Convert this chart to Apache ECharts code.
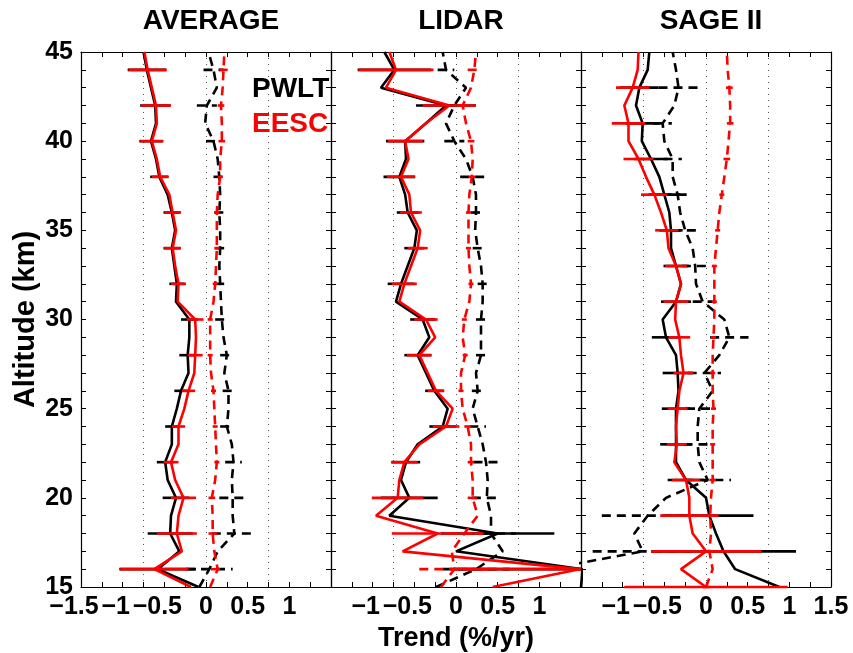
<!DOCTYPE html>
<html><head><meta charset="utf-8">
<script src="https://cdn.jsdelivr.net/npm/echarts@6/dist/echarts.min.js"></script>
<style>html,body{margin:0;padding:0;background:#fff}#c{width:853px;height:653px}</style>
</head><body><div id="c"></div>
<script>
// Altitudes (km) of the profiles
const alt = [15,16,17,18,19,20,21,22,23,24,25,26,27,28,29,30,31,32,33,34,35,36,37,38,39,40,41,42,43,44,45];
const evenAlt = [16,18,20,22,24,26,28,30,32,34,36,38,40,42,44];
const oddAlt = [15,17,19,21,23,25,27,29,31,33,35,37,39,41,43];
const panelTitles = ['AVERAGE','LIDAR','SAGE II'];
const legendNames = ['PWLT','EESC'];

// AVERAGE
const avgPwltPre  = [-0.09,-0.58,-0.32,-0.43,-0.42,-0.36,-0.46,-0.49,-0.41,-0.41,-0.35,-0.30,-0.21,-0.22,-0.20,-0.20,-0.36,-0.35,-0.38,-0.41,-0.37,-0.41,-0.46,-0.56,-0.60,-0.66,-0.60,-0.61,-0.66,-0.71,-0.75];
const avgEescPre  = [-0.18,-0.62,-0.29,-0.35,-0.33,-0.27,-0.37,-0.42,-0.33,-0.33,-0.26,-0.21,-0.14,-0.13,-0.12,-0.13,-0.34,-0.33,-0.37,-0.40,-0.36,-0.40,-0.44,-0.55,-0.59,-0.65,-0.59,-0.60,-0.65,-0.70,-0.74];
const avgPwltPost = [-0.08,0.04,0.14,0.34,0.32,0.32,0.31,0.33,0.31,0.25,0.27,0.27,0.22,0.25,0.21,0.19,0.18,0.17,0.16,0.17,0.17,0.16,0.17,0.16,0.14,0.09,-0.01,0.01,0.13,0.09,0.03];
const avgEescPost = [0.05,0.14,0.10,0.08,0.08,0.07,0.11,0.13,0.12,0.11,0.10,0.09,0.06,0.05,0.05,0.05,0.09,0.11,0.12,0.13,0.13,0.13,0.14,0.17,0.17,0.19,0.19,0.18,0.20,0.21,0.22];
const avgPwltPreErr  = [0.46,0.27,0.16,0.10,0.08,0.08,0.10,0.10,0.09,0.10,0.10,0.11,0.14,0.18,0.23];
const avgEescPreErr  = [0.41,0.24,0.15,0.09,0.08,0.08,0.09,0.10,0.09,0.10,0.10,0.10,0.14,0.18,0.23];
const avgPwltPostErr = [0.28,0.27,0.16,0.10,0.08,0.07,0.08,0.08,0.06,0.06,0.06,0.07,0.09,0.12,0.12];
const avgEescPostErr = [0.08,0.05,0.04,0.03,0.03,0.03,0.03,0.03,0.03,0.03,0.03,0.03,0.04,0.04,0.05];

// LIDAR
const lidPwltPre  = [1.50,1.52,0.00,0.50,-0.80,-0.56,-0.66,-0.60,-0.46,-0.16,-0.10,-0.26,-0.36,-0.46,-0.32,-0.40,-0.72,-0.66,-0.58,-0.50,-0.47,-0.58,-0.61,-0.68,-0.60,-0.61,-0.36,-0.12,-0.90,-0.74,-0.86];
const lidEescPre  = [0.44,1.48,-0.64,-0.22,-0.96,-0.70,-0.68,-0.62,-0.44,-0.12,-0.04,-0.24,-0.34,-0.44,-0.25,-0.36,-0.68,-0.62,-0.54,-0.46,-0.43,-0.54,-0.56,-0.66,-0.57,-0.61,-0.36,-0.08,-0.84,-0.72,-0.80];
const lidPwltPost = [-0.24,0.24,0.56,0.42,0.42,0.37,0.38,0.36,0.32,0.26,0.20,0.26,0.24,0.30,0.30,0.30,0.32,0.32,0.30,0.26,0.23,0.24,0.24,0.20,0.12,-0.02,-0.12,-0.02,0.12,-0.12,-0.16];
const lidEescPost = [-0.18,-0.02,-0.05,0.10,0.26,0.20,0.20,0.18,0.18,0.14,0.08,0.06,0.06,0.11,0.08,0.10,0.16,0.18,0.16,0.15,0.15,0.15,0.16,0.19,0.20,0.18,0.12,0.08,0.18,0.22,0.24];
const lidPwltPreErr  = [1.55,0.68,0.34,0.17,0.16,0.11,0.16,0.15,0.16,0.12,0.13,0.19,0.23,0.36,0.44];
const lidEescPreErr  = [1.55,0.55,0.31,0.16,0.16,0.10,0.15,0.14,0.15,0.12,0.13,0.17,0.21,0.32,0.45];
const lidPwltPostErr = [0.40,0.30,0.18,0.15,0.10,0.07,0.06,0.06,0.06,0.06,0.06,0.15,0.12,0.10,0.10];
const lidEescPostErr = [0.42,0.20,0.06,0.04,0.04,0.03,0.03,0.03,0.03,0.03,0.03,0.04,0.04,0.05,0.08];

// SAGE II
const sagPwltPre  = [0.88,0.35,0.21,0.12,0.04,0.00,-0.24,-0.36,-0.36,-0.36,-0.36,-0.33,-0.34,-0.36,-0.48,-0.52,-0.36,-0.30,-0.36,-0.42,-0.42,-0.44,-0.50,-0.56,-0.66,-0.77,-0.76,-0.84,-0.80,-0.70,-0.68];
const sagEescPre  = [0.00,-0.30,0.00,-0.16,-0.20,-0.20,-0.24,-0.38,-0.35,-0.36,-0.34,-0.32,-0.27,-0.30,-0.32,-0.37,-0.36,-0.30,-0.36,-0.45,-0.47,-0.54,-0.62,-0.72,-0.81,-0.93,-0.93,-0.98,-0.88,-0.82,-0.81];
const sagPwltPost = [-1.80,-1.90,-0.76,-0.86,-0.70,-0.48,0.02,-0.08,-0.10,-0.10,-0.08,0.08,-0.02,0.16,0.28,0.22,-0.04,-0.12,-0.13,-0.16,-0.25,-0.31,-0.34,-0.40,-0.40,-0.50,-0.52,-0.38,-0.33,-0.36,-0.40];
const sagEescPost = [0.00,0.08,0.04,0.06,0.05,0.06,0.08,0.08,0.08,0.08,0.09,0.08,0.08,0.08,0.09,0.10,0.10,0.10,0.10,0.12,0.14,0.16,0.19,0.22,0.25,0.27,0.29,0.29,0.28,0.26,0.25];
const sagPwltPreErr  = [0.00,0.87,0.53,0.22,0.19,0.17,0.18,0.17,0.18,0.15,0.14,0.19,0.20,0.20,0.23];
const sagEescPreErr  = [0.98,0.66,0.35,0.17,0.12,0.12,0.12,0.13,0.15,0.13,0.14,0.16,0.18,0.20,0.20];
const sagPwltPostErr = [0.00,0.60,0.55,0.28,0.17,0.16,0.20,0.23,0.12,0.16,0.16,0.18,0.11,0.11,0.24];
const sagEescPostErr = [0.04,0.04,0.04,0.04,0.03,0.03,0.03,0.03,0.03,0.03,0.03,0.03,0.04,0.04,0.04];

const panels = [
  {pp:avgPwltPre, ep:avgEescPre, pq:avgPwltPost, eq:avgEescPost, ppe:avgPwltPreErr, epe:avgEescPreErr, pqe:avgPwltPostErr, eqe:avgEescPostErr, ebAlt:evenAlt},
  {pp:lidPwltPre, ep:lidEescPre, pq:lidPwltPost, eq:lidEescPost, ppe:lidPwltPreErr, epe:lidEescPreErr, pqe:lidPwltPostErr, eqe:lidEescPostErr, ebAlt:evenAlt},
  {pp:sagPwltPre, ep:sagEescPre, pq:sagPwltPost, eq:sagEescPost, ppe:sagPwltPreErr, epe:sagEescPreErr, pqe:sagPwltPostErr, eqe:sagEescPostErr, ebAlt:oddAlt}
];

const FONT = 'Liberation Sans, Arial, sans-serif';
const BLACK = '#000000', RED = '#ff0000';
const DASH = [9, 6];
const gridLeft = 81, gridW = 250, gridTop = 52, gridH = 535;

function lineData(vals){ return vals.map((v,i)=>[v, alt[i]]); }
function ebData(line, errs, ebAlt){ return ebAlt.map((a,i)=>[line[alt.indexOf(a)], errs[i], a]); }
function ebRender(color, dashed){
  return function(params, api){
    const v = api.value(0), e = api.value(1), a = api.value(2);
    const p1 = api.coord([v-e, a]), p2 = api.coord([v+e, a]);
    const cs = params.coordSys;
    const cl = x => Math.max(cs.x, Math.min(cs.x+cs.width, x));
    return {type:'line', shape:{x1:cl(p1[0]), y1:p1[1], x2:cl(p2[0]), y2:p2[1]},
      style:{stroke:color, lineWidth:2.6, lineDash: dashed ? DASH : null}};
  };
}
function fmtX(i){
  return function(v){
    const r = Math.round(v*100)/100;
    if (Math.abs(r*2 - Math.round(r*2)) > 1e-6) return '';
    if (i===0 && r>=1.5) return '';
    if (i===1 && Math.abs(r)>=1.5) return '';
    if (i===2 && r<=-1.5) return '';
    if (r<0) return '{n|\u2212' + String(Math.abs(r)) + '}';
    return String(r);
  };
}

const grids=[], xAxes=[], yAxes=[], series=[], titles=[];
panels.forEach((p,i)=>{
  grids.push({left: gridLeft + gridW*i, top: gridTop, width: gridW, height: gridH, containLabel:false, outerBoundsMode:'none'});
  xAxes.push({gridIndex:i, type:'value', position:'bottom', min:-1.5, max:1.5, interval:0.25,
    axisLine:{show:true, onZero:false, lineStyle:{color:BLACK, width:1.2}},
    axisTick:{show:true, inside:true, length:5, lineStyle:{color:BLACK}},
    splitLine:{show:false},
    axisLabel:{show:true, formatter: fmtX(i), color:BLACK, fontFamily:FONT, fontWeight:'bold', fontSize:25, margin:8,
      showMinLabel:true, showMaxLabel:true, hideOverlap:false,
      rich:{n:{color:BLACK, fontFamily:FONT, fontWeight:'bold', fontSize:25, padding:[0,14,0,0]}}},
    name: i===1 ? 'Trend (%/yr)' : '', nameLocation:'middle', nameGap:35,
    nameTextStyle:{color:BLACK, fontFamily:FONT, fontWeight:'bold', fontSize:27}
  });
  xAxes.push({gridIndex:i, type:'value', position:'top', min:-1.5, max:1.5, interval:0.75,
    axisLine:{show:true, onZero:false, lineStyle:{color:BLACK, width:1.2}},
    axisTick:{show:true, inside:true, length:5, lineStyle:{color:BLACK}},
    minorTick:{show:true, splitNumber:3, length:5, lineStyle:{color:BLACK}},
    splitLine:{show:true, lineStyle:{color:'#555555', width:1, type:[1,5]}},
    axisLabel:{show:false}
  });
  yAxes.push({gridIndex:i, type:'value', position:'left', min:15, max:45, interval:1,
    axisLine:{show:true, onZero:false, lineStyle:{color:BLACK, width:1.2}},
    axisTick:{show:true, inside:true, length:5, lineStyle:{color:BLACK}},
    splitLine:{show:false},
    axisLabel:{show: i===0, formatter: v => (v%5===0 ? String(v) : ''), color:BLACK, fontFamily:FONT, fontWeight:'bold', fontSize:25, margin:8},
    name: i===0 ? 'Altitude (km)' : '', nameLocation:'middle', nameGap:41, nameRotate:90,
    nameTextStyle:{color:BLACK, fontFamily:FONT, fontWeight:'bold', fontSize:29}
  });
  yAxes.push({gridIndex:i, type:'value', position:'right', min:15, max:45, interval:1,
    axisLine:{show:true, onZero:false, lineStyle:{color:BLACK, width:1.2}},
    axisTick:{show:true, inside:true, length:5, lineStyle:{color:BLACK}},
    splitLine:{show:false}, axisLabel:{show:false}
  });
  const xb = 2*i, yl = 2*i;
  const ln = (vals, color, dashed, z, clip) => ({type:'line', xAxisIndex:xb, yAxisIndex:yl, data:lineData(vals),
    symbol:'none', clip: clip, z:z, silent:true, animation:false,
    lineStyle:{color:color, width:2.6, type: dashed ? DASH : 'solid'}});
  const eb = (line, errs, color, dashed, z) => ({type:'custom', xAxisIndex:xb, yAxisIndex:yl,
    data: ebData(line, errs, p.ebAlt), encode:{x:0, y:2}, renderItem: ebRender(color, dashed), z:z, silent:true, animation:false});
  series.push(eb(p.pp, p.ppe, BLACK, false, 2));
  series.push(ln(p.pp, BLACK, false, 3, true));
  series.push(eb(p.pq, p.pqe, BLACK, true, 2));
  series.push(ln(p.pq, BLACK, true, 3, i!==2));
  series.push(eb(p.ep, p.epe, RED, false, 4));
  series.push(ln(p.ep, RED, false, 5, true));
  series.push(eb(p.eq, p.eqe, RED, true, 4));
  series.push(ln(p.eq, RED, true, 5, true));
  titles.push({text: panelTitles[i], left: gridLeft + gridW*i + gridW/2, top: 2, textAlign:'center',
    textStyle:{color:BLACK, fontFamily:FONT, fontWeight:'bold', fontSize:28}});
});

const chart = echarts.init(document.getElementById('c'), null, {renderer:'canvas'});
chart.setOption({
  animation:false,
  backgroundColor:'#ffffff',
  title: titles,
  grid: grids, xAxis: xAxes, yAxis: yAxes, series: series,
  graphic:[
    {type:'text', left:252, top:75, z:10, style:{text:legendNames[0], fill:BLACK, font:'bold 28px ' + FONT}},
    {type:'text', left:252, top:110, z:10, style:{text:legendNames[1], fill:RED, font:'bold 28px ' + FONT}}
  ]
});
</script></body></html>
